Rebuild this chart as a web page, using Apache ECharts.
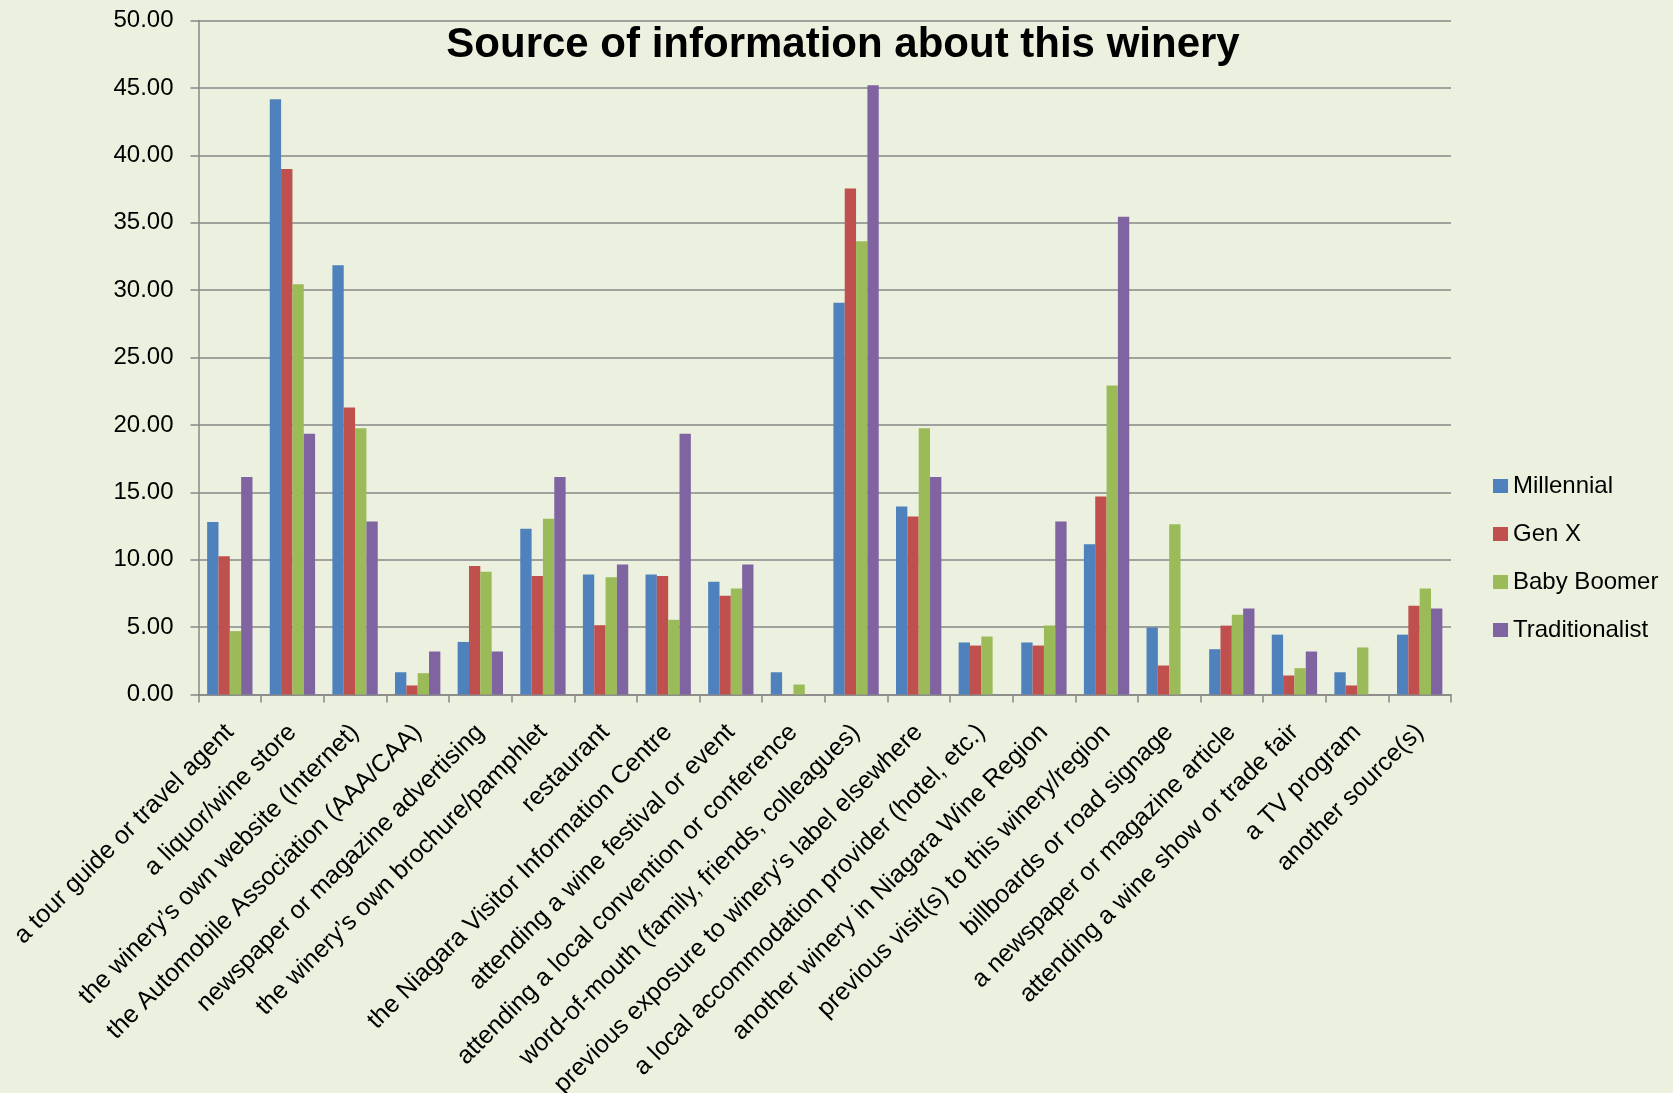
<!DOCTYPE html>
<html>
<head>
<meta charset="utf-8">
<title>Source of information about this winery</title>
<script src="https://cdn.jsdelivr.net/npm/echarts@6/dist/echarts.min.js"></script>
<style>
  html, body { margin: 0; padding: 0; background: #EBF1DE; }
  #chart { width: 1673px; height: 1093px; }
</style>
</head>
<body>
<div id="chart"></div>
<script>
// Information sources (x categories)
const categories = [
  'a tour guide or travel agent',
  'a liquor/wine store',
  'the winery\u2019s own website (Internet)',
  'the Automobile Association (AAA/CAA)',
  'newspaper or magazine advertising',
  'the winery\u2019s own brochure/pamphlet',
  'restaurant',
  'the Niagara Visitor Information Centre',
  'attending a wine festival or event',
  'attending a local convention or conference',
  'word-of-mouth (family, friends, colleagues)',
  'previous exposure to winery\u2019s label elsewhere',
  'a local accommodation provider (hotel, etc.)',
  'another winery in Niagara Wine Region',
  'previous visit(s) to this winery/region',
  'billboards or road signage',
  'a newspaper or magazine article',
  'attending a wine show or trade fair',
  'a TV program',
  'another source(s)'
];

// Percentage of respondents per generation
const millennial = [12.80, 44.15, 31.85, 1.65, 3.90, 12.30, 8.90, 8.90, 8.37, 1.65,
                    29.07, 13.94, 3.86, 3.86, 11.15, 4.97, 3.36, 4.44, 1.65, 4.44];
const genX = [10.25, 38.98, 21.30, 0.67, 9.54, 8.80, 5.14, 8.80, 7.32, 0,
              37.53, 13.20, 3.63, 3.63, 14.68, 2.15, 5.11, 1.41, 0.67, 6.59];
const babyBoomer = [4.70, 30.44, 19.76, 1.58, 9.11, 13.04, 8.70, 5.54, 7.86, 0.74,
                    33.63, 19.76, 4.30, 5.11, 22.92, 12.63, 5.91, 1.95, 3.49, 7.86];
const traditionalist = [16.13, 19.35, 12.83, 3.19, 3.19, 16.13, 9.64, 19.35, 9.64, 0,
                        45.19, 16.13, 0, 12.83, 35.45, 0, 6.38, 3.19, 0, 6.38];

const seriesNames = ['Millennial', 'Gen X', 'Baby Boomer', 'Traditionalist'];
const seriesValues = [millennial, genX, babyBoomer, traditionalist];
const seriesColors = ['#4F81BD', '#C0504D', '#9BBB59', '#8064A2'];

const axisGray = '#878787';
const textFont = '"Liberation Sans", Arial, sans-serif';

const chart = echarts.init(document.getElementById('chart'));
chart.setOption({
  backgroundColor: '#EBF1DE',
  animation: false,
  color: seriesColors,
  title: {
    text: 'Source of information about this winery',
    left: 838,
    top: 19,
    textAlign: 'center',
    textStyle: {
      fontFamily: textFont,
      fontWeight: 'bold',
      fontSize: 42,
      color: '#000'
    }
  },
  legend: {
    orient: 'vertical',
    left: 1493,
    top: 474,
    padding: 0,
    itemWidth: 15,
    itemHeight: 14,
    itemGap: 24,
    icon: 'rect',
    data: seriesNames,
    textStyle: {
      fontFamily: textFont,
      fontSize: 24,
      lineHeight: 24,
      color: '#000'
    }
  },
  grid: {
    left: 198.5,
    right: 222,
    top: 20.5,
    bottom: 398.5,
    containLabel: false,
    outerBoundsMode: 'none'
  },
  xAxis: {
    type: 'category',
    data: categories,
    boundaryGap: true,
    axisLine: { show: true, lineStyle: { color: axisGray, width: 1.5 } },
    axisTick: { show: true, length: 8, lineStyle: { color: axisGray, width: 1.5 } },
    axisLabel: {
      interval: 0,
      rotate: 45,
      margin: 34,
      fontFamily: textFont,
      fontSize: 25,
      color: '#000'
    }
  },
  yAxis: {
    type: 'value',
    min: 0,
    max: 50,
    interval: 5,
    axisLine: { show: true, lineStyle: { color: axisGray, width: 1.5 } },
    axisTick: { show: true, length: 8, lineStyle: { color: axisGray, width: 1.5 } },
    splitLine: { show: true, lineStyle: { color: axisGray, width: 1.5 } },
    axisLabel: {
      margin: 25,
      fontFamily: textFont,
      fontSize: 24,
      color: '#000',
      formatter: v => v.toFixed(2)
    }
  },
  series: seriesNames.map((name, i) => ({
    name: name,
    type: 'bar',
    data: seriesValues[i],
    barGap: '0%',
    barCategoryGap: '27.6%',
    itemStyle: { color: seriesColors[i] }
  }))
});
</script>
</body>
</html>
